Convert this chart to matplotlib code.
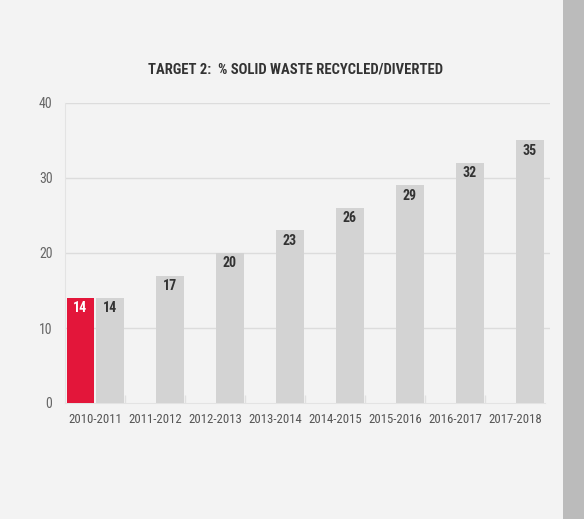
import matplotlib
matplotlib.use("Agg")
import matplotlib.pyplot as plt
from matplotlib import font_manager
import numpy as np

# Data
categories = ["2010-2011", "2011-2012", "2012-2013", "2013-2014",
              "2014-2015", "2015-2016", "2016-2017", "2017-2018"]
baseline = [14, None, None, None, None, None, None, None]
target = [14, 17, 20, 23, 26, 29, 32, 35]
y_ticks = [0, 10, 20, 30, 40]
title = "TARGET 2:  % SOLID WASTE RECYCLED/DIVERTED"

names = {f.name for f in font_manager.fontManager.ttflist}
family = "DejaVu Sans"
for cand in ["Liberation Sans Narrow", "DejaVu Sans Condensed", "Roboto Condensed", "Open Sans Condensed"]:
    if cand in names:
        family = cand
        break
plt.rcParams["font.family"] = [family, "DejaVu Sans"]

BG = "#f3f3f3"
RED = "#e3163a"
GRAY = "#d3d3d3"
GRID = "#dcdcdc"

fig = plt.figure(figsize=(5.84, 5.19), dpi=100, facecolor=BG)
# right-hand side strip
fig.patches.append(plt.Rectangle((563 / 584, 0), 21 / 584, 1, transform=fig.transFigure,
                                 facecolor="#bbbbbb", edgecolor="none", zorder=0))

ax = fig.add_axes([65 / 584, (519 - 403) / 519, 485 / 584, 300 / 519])
ax.set_facecolor(BG)

x = np.arange(len(categories))
w = 0.46
off = 0.245

for xi, v in zip(x, baseline):
    if v is not None:
        ax.bar(xi - off, v, width=w, color=RED, zorder=3)
        ax.text(xi - off, v - 1.35, f"{v}", ha="center", va="center",
                color="white", fontsize=10, fontweight="bold", zorder=4)
for xi, v in zip(x, target):
    ax.bar(xi + off, v, width=w, color=GRAY, zorder=3)
    ax.text(xi + off, v - 1.35, f"{v}", ha="center", va="center",
            color="#333333", fontsize=10, fontweight="bold", zorder=4)

ax.set_xlim(-0.5, 7.583)
ax.set_ylim(0, 40)
ax.set_yticks(y_ticks)
ax.set_yticklabels([str(t) for t in y_ticks])
ax.set_xticks(x)
ax.set_xticklabels(categories)
ax.set_xticks(np.arange(len(categories) - 1) + 0.5, minor=True)
ax.tick_params(axis="x", which="major", length=0, pad=7, colors="#555555", labelsize=9.2)
ax.tick_params(axis="x", which="minor", length=6, direction="in", color="#e0e0e0", width=1)
ax.tick_params(axis="y", length=0, pad=9, colors="#666666", labelsize=10)

for t in y_ticks[1:]:
    ax.axhline(t, color=GRID, lw=1, zorder=1)

for s in ["top", "right"]:
    ax.spines[s].set_visible(False)
ax.spines["left"].set_color("#e3e3e3")
ax.spines["bottom"].set_color("#e3e3e3")
ax.spines["bottom"].set_bounds(-0.5, 7.5)

fig.text(296 / 584, 1 - 70 / 519, title, ha="center", va="center",
         fontsize=10.5, fontweight="bold", color="#333333")

fig.savefig("out.png", dpi=100, facecolor=BG)
